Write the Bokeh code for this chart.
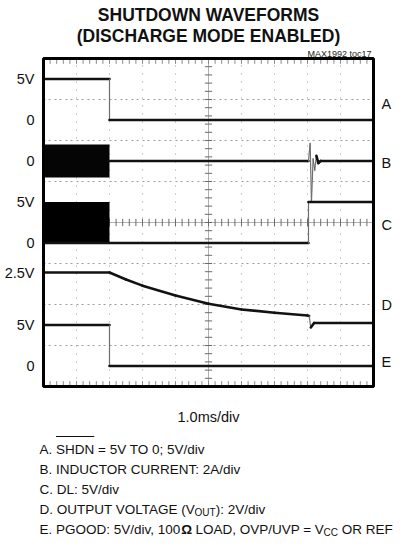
import numpy as np
from bokeh.plotting import figure
from bokeh.models import Range1d
from bokeh.core.properties import value
from bokeh.embed import file_html
from bokeh.resources import INLINE

# ---------------- data (time in ms, 1.0 ms/div, 10 div) ----------------
t_A = [0.0, 2.0, 2.0, 10.0]
v_A = [5.0, 5.0, 0.0, 0.0]                      # SHDN (V)

t_B_band = [0.0, 2.0]
i_B_hi = [0.8, 0.8]                             # switching ripple envelope (A)
i_B_lo = [-0.8, -0.8]
t_B = [2.0, 8.03, 8.08, 8.12, 8.17, 8.22, 8.27, 8.33, 8.40, 10.0]
i_B = [0.0, 0.0, 0.86, -2.0, 0.1, -0.45, 0.25, -0.1, 0.0, 0.0]

t_C_band = [0.0, 2.0]
v_C_hi = [5.0, 5.0]                             # DL switching envelope (V)
v_C_lo = [0.0, 0.0]
t_C = [0.0, 8.03, 8.03, 10.0]
v_C = [0.0, 0.0, 5.0, 5.0]

t_D = [0.0, 2.0, 2.5, 3.0, 4.0, 5.0, 6.0, 7.0, 8.0, 8.05, 8.1, 8.2, 10.0]
v_D = [2.5, 2.5, 2.16, 1.86, 1.38, 0.98, 0.70, 0.54, 0.40, 0.38, -0.18, 0.04, 0.04]

t_E = [0.0, 2.0, 2.0, 10.0]
v_E = [5.0, 5.0, 0.0, 0.0]                      # PGOOD (V)

channels = ["A", "B", "C", "D", "E"]
ch_offset = {"A": 6.5, "B": 5.5, "C": 3.5, "D": 1.53, "E": 0.5}   # zero level (div)
ch_scale = {"A": 5.0, "B": 2.0, "C": 5.0, "D": 2.0, "E": 5.0}     # units per div

level_ch = ["A", "A", "B", "C", "C", "D", "E", "E"]
level_val = [5.0, 0.0, 0.0, 5.0, 0.0, 2.5, 5.0, 0.0]
level_txt = ["5V", "0", "0", "5V", "0", "2.5V", "5V", "0"]

ch_label_y = [6.9, 5.44, 3.95, 2.0, 0.59]       # right-hand channel letters (div)

title_lines = ["SHUTDOWN WAVEFORMS", "(DISCHARGE MODE ENABLED)"]
tag = "MAX1992 toc17"
xlabel = "1.0ms/div"


def scr(ch, vals):
    return [ch_offset[ch] + v / ch_scale[ch] for v in vals]


# ---------------- geometry ----------------
PXX, PXY = 33.0, 41.0            # pixels per division
X0, Y0 = 51.0, 394.0             # page px of scope's (0, 0)
W, H = 399, 538

def dx(px):
    return (px - X0) / PXX

def dy(py):
    return (Y0 - py) / PXY

FONT = value("Liberation Sans")
NB = "\u00a0"

# Arial / Liberation Sans advance widths (1/1000 em)
AW = {" ": 278, NB: 278, ".": 278, ",": 278, ":": 278, ";": 278, "=": 584,
      "/": 278, "(": 333, ")": 333, "A": 667, "B": 667, "C": 722, "D": 722,
      "E": 667, "F": 611, "G": 778, "H": 722, "I": 278, "L": 556, "M": 833,
      "N": 722, "O": 778, "P": 667, "R": 722, "S": 667, "T": 611, "U": 722,
      "V": 667, "W": 944, "X": 667, "d": 556, "i": 222, "v": 500, "m": 833,
      "s": 500, "Ω": 768}

def tw(s, size):
    return sum(AW.get(c, 556) for c in s) / 1000.0 * size


p = figure(width=W, height=H, output_backend="svg", toolbar_location=None,
           x_range=Range1d(dx(8), dx(8 + W)), y_range=Range1d(dy(8 + H), dy(8)),
           min_border=0)
p.axis.visible = False
p.grid.visible = False
p.outline_line_color = None
p.background_fill_color = "white"

# ---------------- graticule ----------------
gx = [x for x in range(1, 10) if x != 5]
gy = [y for y in range(1, 8) if y != 4]
p.segment(x0=gx, y0=[0] * len(gx), x1=gx, y1=[8] * len(gx),
          line_color="#9c9c9c", line_width=1, line_dash=value("1 7"))
p.segment(x0=[0] * len(gy), y0=gy, x1=[10] * len(gy), y1=gy,
          line_color="#9c9c9c", line_width=1, line_dash=value("2 3 2 4"))
p.segment(x0=[5, 0], y0=[0, 4], x1=[5, 10], y1=[8, 4],
          line_color="#b0b0b0", line_width=1)
mx = np.arange(0.2, 10, 0.2)
my = np.arange(0.2, 8, 0.2)
p.segment(x0=mx, y0=4 - 0.09, x1=mx, y1=4 + 0.09, line_color="#6a6a6a", line_width=1)
p.segment(x0=5 - 0.11, y0=my, x1=5 + 0.11, y1=my, line_color="#6a6a6a", line_width=1)
p.segment(x0=mx, y0=0, x1=mx, y1=0.13, line_color="#8a8a8a", line_width=1)
p.segment(x0=mx, y0=8, x1=mx, y1=8 - 0.13, line_color="#8a8a8a", line_width=1)

# ---------------- traces ----------------
TR = "#121212"
LW = 2.6


def draw_trace(t, y):
    t = np.asarray(t, float)
    y = np.asarray(y, float)
    ddx = np.abs(np.diff(t)) * PXX
    ddy = np.abs(np.diff(y)) * PXY
    steep = ddy > 4 * ddx          # fast edges show thin and faint on a scope
    p.segment(x0=t[:-1], y0=y[:-1], x1=t[1:], y1=y[1:],
              line_width=np.where(steep, 1.2, LW).tolist(),
              line_color=np.where(steep, "#6e6e6e", TR).tolist(),
              line_cap="round")


p.varea(x=t_B_band, y1=scr("B", i_B_lo), y2=scr("B", i_B_hi), fill_color="#050505")
p.varea(x=t_C_band, y1=scr("C", v_C_lo), y2=scr("C", v_C_hi), fill_color="#000000")
draw_trace(t_A, scr("A", v_A))
draw_trace(t_B, scr("B", i_B))
draw_trace(t_C, scr("C", v_C))
draw_trace(t_D, scr("D", v_D))
draw_trace(t_E, scr("E", v_E))

# frame
p.quad(left=[0], right=[10], bottom=[0], top=[8], fill_alpha=0,
       line_color="black", line_width=3)

# ---------------- texts ----------------
ly = [ch_offset[c] + v / ch_scale[c] for c, v in zip(level_ch, level_val)]
p.text(x=[dx(42)] * len(ly), y=ly, text=level_txt, text_font=FONT,
       text_font_size="14.5px", text_align="right", text_baseline="middle",
       text_color="#111")
p.text(x=[dx(389)] * len(channels), y=ch_label_y, text=channels, text_font=FONT,
       text_font_size="14.5px", text_align="left", text_baseline="middle",
       text_color="#111")

p.text(x=[5.0, 5.0], y=[dy(22.5), dy(43.5)], text=title_lines, text_font=FONT,
       text_font_size="17.5px", text_font_style="bold", text_align="center",
       text_baseline="alphabetic", text_color="#111")
p.text(x=[dx(379)], y=[dy(61)], text=[tag], text_font=FONT, text_font_size="9px",
       text_align="right", text_baseline="alphabetic", text_color="#222")
p.text(x=[5.0], y=[dy(424)], text=[xlabel], text_font=FONT, text_font_size="14.5px",
       text_align="center", text_baseline="alphabetic", text_color="#111")

# caption (with subscripts / overline); third item = kerning nudge (px)
CS, SS = 13.5, 10
cx0 = 47.0
base = [457, 477, 497, 517, 537]
segs = [
    [("A. SHDN = 5V TO 0; 5V/div", "n", 0)],
    [("B. INDUCTOR CURRENT: 2A/div", "n", 0)],
    [("C. DL: 5V/div", "n", 0)],
    [("D. OUTPUT VOLTAGE (V", "n", -2.5), ("OUT", "s", 0), ("): 2V/div", "n", 0)],
    [("E. PGOOD: 5V/div, 100", "n", 0), ("Ω", "b", 0),
     (NB + "LOAD, OVP/UVP = V", "n", -0.5), ("CC", "s", 0), (NB + "OR REF", "n", 0)],
]
for b, line in zip(base, segs):
    x = cx0
    for s, kind, nudge in line:
        size = SS if kind == "s" else CS
        yb = b + 3 if kind == "s" else b
        p.text(x=[dx(x)], y=[dy(yb)], text=[s], text_font=FONT,
               text_font_size=f"{size}px",
               text_font_style="bold" if kind == "b" else "normal",
               text_align="left", text_baseline="alphabetic", text_color="#111")
        x += tw(s, size) + nudge

ox0 = cx0 + tw("A. ", CS)
ox1 = ox0 + tw("SHDN", CS)
p.segment(x0=[dx(ox0)], y0=[dy(444)], x1=[dx(ox1)], y1=[dy(444)],
          line_color="#111", line_width=1.1)

open("out.html", "w").write(file_html(p, INLINE))
